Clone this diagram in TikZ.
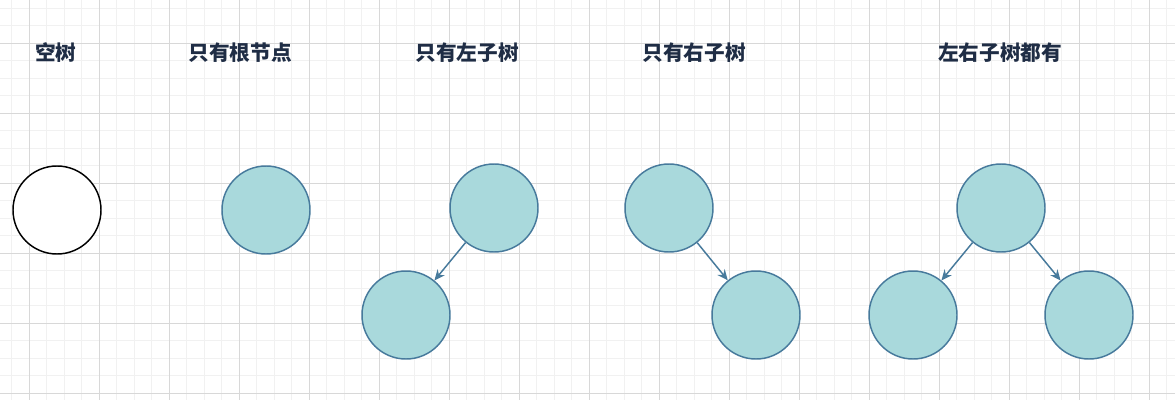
\documentclass[tikz,border=0pt]{standalone}
\usepackage{fontspec}
\newfontfamily\cjk{Noto Sans CJK SC}
\usetikzlibrary{arrows.meta}
\definecolor{minorg}{HTML}{F1F1F1}
\definecolor{majorg}{HTML}{D8D8D8}
\definecolor{nodefill}{HTML}{A9D9DC}
\definecolor{nodeline}{HTML}{477A9C}
\definecolor{titlec}{HTML}{1F2D45}
\tikzset{
  tnode/.style={circle,draw=nodeline,fill=nodefill,line width=1.1pt,minimum size=66pt,inner sep=0pt},
  enode/.style={circle,draw=black,fill=white,line width=1.1pt,minimum size=66pt,inner sep=0pt},
  title/.style={font=\cjk\bfseries\fontsize{15.5pt}{17pt}\selectfont,text=titlec},
  edge/.style={draw=nodeline,line width=1.1pt,-{Stealth[length=8pt,width=7pt]}}
}
\begin{document}
\begin{tikzpicture}[x=0.75pt,y=-0.75pt]
\useasboundingbox (0,0) rectangle (1175,400);
\fill[white] (0,0) rectangle (1175,400);
\foreach \i in {0,...,68} {
  \draw[minorg,line width=0.5pt] ({29-17.5*2+17.5*\i},0) -- ++(0,400);
}
\foreach \j in {0,...,24} {
  \draw[minorg,line width=0.5pt] (0,{43-17.5*2+17.5*\j}) -- ++(1175,0);
}
\foreach \i in {0,...,16} {
  \draw[majorg,line width=0.6pt] ({29+70*\i},0) -- ++(0,400);
}
\foreach \j in {-1,...,5} {
  \draw[majorg,line width=0.6pt] (0,{43+70*\j}) -- ++(1175,0);
}
\node[title] (t1) at (56,53) {空树};
\node[title] (t2) at (240,53) {只有根节点};
\node[title] (t3) at (467,53) {只有左子树};
\node[title] (t4) at (694,53) {只有右子树};
\node[title] (t5) at (1000,53) {左右子树都有};
\node[enode] (e) at (57,210) {};
\node[tnode] (r) at (266,210) {};
\node[tnode] (l1) at (494,208) {};
\node[tnode] (l2) at (406,315) {};
\node[tnode] (r1) at (669,208) {};
\node[tnode] (r2) at (756,315) {};
\node[tnode] (b1) at (1001,208) {};
\node[tnode] (b2) at (913,315) {};
\node[tnode] (b3) at (1089,315) {};
\draw[edge] (l1) -- (l2);
\draw[edge] (r1) -- (r2);
\draw[edge] (b1) -- (b2);
\draw[edge] (b1) -- (b3);
\end{tikzpicture}
\end{document}
